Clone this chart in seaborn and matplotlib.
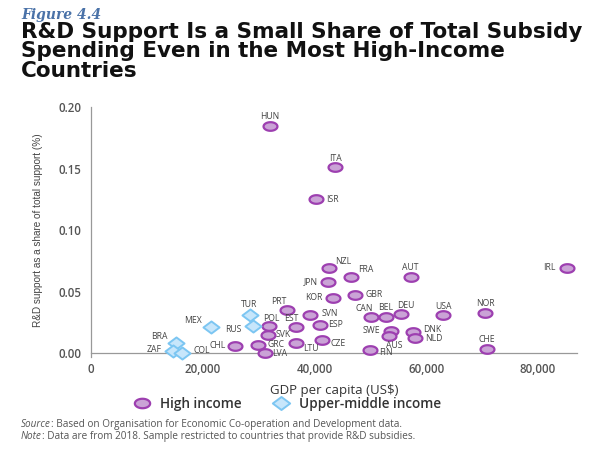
import numpy as np
import pandas as pd
import matplotlib
matplotlib.use("Agg")
import matplotlib.pyplot as plt
from matplotlib.path import Path
from matplotlib.lines import Line2D
from matplotlib.transforms import offset_copy
import seaborn as sns

# country data (GDP per capita US$, R&D share of support)
countries = ["HUN", "ITA", "ISR", "NZL", "FRA", "JPN", "KOR", "GBR", "PRT", "SVN",
             "POL", "EST", "ESP", "SVK", "CHL", "GRC", "LVA", "LTU", "CZE", "FIN",
             "CAN", "BEL", "DEU", "SWE", "AUS", "DNK", "NLD", "USA", "NOR", "CHE",
             "AUT", "IRL",
             "TUR", "RUS", "MEX", "BRA", "ZAF", "COL"]
gdp = [32000, 43600, 40200, 42600, 46500, 42400, 43200, 47200, 35000, 39200,
       31900, 36700, 40900, 31600, 25700, 29900, 31200, 36700, 41400, 49900,
       50100, 52700, 55400, 53600, 53300, 57600, 57900, 63000, 70500, 70800,
       57200, 85200,
       28500, 28900, 21400, 15200, 14600, 16300]
rd_share = [0.185, 0.151, 0.125, 0.069, 0.062, 0.058, 0.045, 0.047, 0.035, 0.031,
            0.022, 0.0215, 0.023, 0.0147, 0.0057, 0.0071, 0.0, 0.0084, 0.0106, 0.003,
            0.0297, 0.0297, 0.0316, 0.018, 0.0139, 0.0174, 0.0125, 0.031, 0.033, 0.0035,
            0.062, 0.0696,
            0.031, 0.022, 0.0215, 0.0087, 0.0016, 0.0006]
group = ["High income"] * 32 + ["Upper-middle income"] * 6

# label offsets in pixels (dx, dy, ha)
label_pos = {
    "HUN": (0, 9, "center"), "ITA": (1, 9, "center"), "ISR": (10, 0, "left"),
    "NZL": (6, 7, "left"), "FRA": (7, 7, "left"), "JPN": (-10, 0, "right"),
    "KOR": (-10, 0, "right"), "GBR": (11, 1, "left"), "PRT": (0, 9, "right"),
    "SVN": (11, 2, "left"), "POL": (2, 8, "center"), "EST": (-5, 8, "center"),
    "ESP": (8, 0, "left"), "SVK": (8, 1, "left"), "CHL": (-9, 1, "right"),
    "GRC": (9, 0, "left"), "LVA": (7, 0, "left"), "LTU": (7, -6, "left"),
    "CZE": (8, -3, "left"), "FIN": (9, -3, "left"), "CAN": (-7, 8, "center"),
    "BEL": (0, 9, "center"), "DEU": (5, 9, "center"), "SWE": (-10, 1, "right"),
    "AUS": (5, -9, "center"), "DNK": (10, 2, "left"), "NLD": (10, -1, "left"),
    "USA": (0, 9, "center"), "NOR": (0, 9, "center"), "CHE": (0, 9, "center"),
    "AUT": (0, 9, "center"), "IRL": (-12, 0, "right"), "TUR": (-1, 11, "center"),
    "RUS": (-11, -3, "right"), "MEX": (-9, 6, "right"), "BRA": (-8, 6, "right"),
    "ZAF": (-11, 2, "right"), "COL": (11, 2, "left"),
}

df = pd.DataFrame({"country": countries, "gdp": gdp, "rd": rd_share, "group": group})

# ellipse and flat diamond markers
t = np.linspace(0, 2 * np.pi, 60)
ellipse = Path(np.column_stack([np.cos(t), 0.62 * np.sin(t)]), closed=True)
diamond = Path([(0, 0.75), (1, 0), (0, -0.75), (-1, 0), (0, 0.75)], closed=True)

purple_edge, purple_fill = "#9d3fb0", "#caa3d6"
blue_edge, blue_fill = "#7cc6f2", "#c7e6fb"

sns.set_style("white")
plt.rcParams["font.family"] = ["Open Sans", "DejaVu Sans"]

fig = plt.figure(figsize=(6, 4.5), dpi=100)
ax = fig.add_axes([0.152, 0.215, 0.81, 0.547])

hi = df[df.group == "High income"]
um = df[df.group == "Upper-middle income"]
sns.scatterplot(data=hi, x="gdp", y="rd", marker=ellipse, s=100, color=purple_fill,
                edgecolor=purple_edge, linewidth=1.6, ax=ax, clip_on=False, zorder=3)
sns.scatterplot(data=um, x="gdp", y="rd", marker=diamond, s=135, color=blue_fill,
                edgecolor=blue_edge, linewidth=1.4, ax=ax, clip_on=False, zorder=3)

for c, x, y in zip(countries, gdp, rd_share):
    dx, dy, ha = label_pos[c]
    ax.annotate(c, (x, y), xytext=(dx, dy), textcoords="offset pixels",
                ha=ha, va="center", fontsize=6.2, color="#444444", zorder=4)

ax.set_xlim(0, 87000)
ax.set_ylim(0, 0.2)
ax.set_xticks([0, 20000, 40000, 60000, 80000])
ax.set_xticklabels(["0", "20,000", "40,000", "60,000", "80,000"])
ax.set_yticks([0, 0.05, 0.10, 0.15, 0.20])
ax.set_yticklabels(["0.00", "0.05", "0.10", "0.15", "0.20"])
ax.tick_params(axis="both", length=4, width=0.8, color="#999999",
               labelsize=8.3, labelcolor="#555555", direction="out", pad=3)
for lab in ax.get_xticklabels() + ax.get_yticklabels():
    lab.set_fontweight("semibold")
for side in ["top", "right"]:
    ax.spines[side].set_visible(False)
for side in ["left", "bottom"]:
    ax.spines[side].set_color("#999999")
    ax.spines[side].set_linewidth(0.9)
ax.spines["left"].set_bounds(-0.003, 0.2)

ax.set_xlabel("GDP per capita (US$)", fontsize=9.5, color="#333333", labelpad=6)
ax.set_ylabel("R&D support as a share of total support (%)", fontsize=7.2,
              color="#444444", labelpad=11,
              family=["Liberation Sans Narrow", "Liberation Sans", "DejaVu Sans"])

# title block
fig.text(0.035, 0.967, "Figure 4.4", fontsize=10, style="italic", color="#4a72a8",
         family=["DejaVu Serif"], weight="bold", va="center")
fig.text(0.035, 0.952, "R&D Support Is a Small Share of Total Subsidy\n"
         "Spending Even in the Most High-Income\nCountries",
         fontsize=15.5, weight="bold", color="#111111", va="top",
         family=["DejaVu Sans"], linespacing=0.98)

# legend
handles = [
    Line2D([], [], marker=ellipse, ls="", markersize=11, markerfacecolor=purple_fill,
           markeredgecolor=purple_edge, markeredgewidth=1.6, label="High income"),
    Line2D([], [], marker=diamond, ls="", markersize=12.5, markerfacecolor=blue_fill,
           markeredgecolor=blue_edge, markeredgewidth=1.4, label="Upper-middle income"),
]
leg = fig.legend(handles=handles, loc="center", bbox_to_anchor=(0.475, 0.103), ncol=2,
                 frameon=False, fontsize=9.8, handletextpad=0.3, columnspacing=1.9)
for txt in leg.get_texts():
    txt.set_fontweight("semibold")
    txt.set_color("#333333")

# source / note lines: italic lead word followed by plain text
renderer = fig.canvas.get_renderer()
notes = [("Source", ": Based on Organisation for Economic Co-operation and Development data.", 0.057),
         ("Note", ": Data are from 2018. Sample restricted to countries that provide R&D subsidies.", 0.029)]
for lead, rest, ypos in notes:
    lt = fig.text(0.035, ypos, lead, fontsize=7.2, style="italic", color="#555555", va="center")
    w = lt.get_window_extent(renderer).width
    fig.text(0.035, ypos, rest, fontsize=7.2, color="#555555", va="center",
             transform=offset_copy(fig.transFigure, fig=fig, x=w, y=0, units="dots"))

fig.savefig("out.png", dpi=100)
